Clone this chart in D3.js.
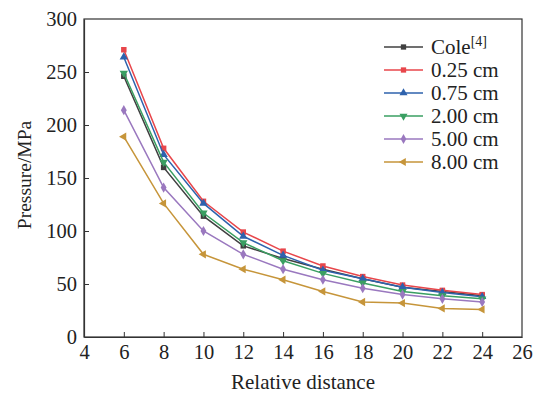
<!DOCTYPE html>
<html><head><meta charset="utf-8">
<script src="https://cdn.jsdelivr.net/npm/d3@7"></script>
</head><body style="margin:0;background:#fff">
<svg id="c" width="539" height="396" style="display:block"></svg>
<script>
const xValues = [6, 8, 10, 12, 14, 16, 18, 20, 22, 24];
const seriesNames = ["Cole", "0.25 cm", "0.75 cm", "2.00 cm", "5.00 cm", "8.00 cm"];
const cole   = [246, 160, 114, 86, 74, 64, 55, 47, 43, 39];
const cm025  = [271, 178, 128, 99, 81, 67, 57, 49, 44, 40];
const cm075  = [264, 172, 126, 95, 77, 63, 55, 47, 42, 38];
const cm200  = [249, 165, 117, 89, 72, 60, 51, 43, 39, 36];
const cm500  = [214, 141, 100, 78, 64, 54, 46, 40, 36, 33];
const cm800  = [189, 126, 78, 64, 54, 43, 33, 32, 27, 26];
const xTicks = [4, 6, 8, 10, 12, 14, 16, 18, 20, 22, 24, 26];
const yTicks = [0, 50, 100, 150, 200, 250, 300];
const colors = ["#404040", "#e8464b", "#2e62ad", "#3a9f62", "#9a78bf", "#c6953a"];
const symbols = [d3.symbolSquare, d3.symbolSquare, d3.symbolTriangle, d3.symbolTriangle, d3.symbolDiamond, d3.symbolTriangle];
const rotations = [0, 0, 0, 180, 0, -90];
const allSeries = [cole, cm025, cm075, cm200, cm500, cm800];

const FONT = '"Liberation Serif"';
const svg = d3.select("#c");
const L = 84, R = 522, T = 19, B = 337;
const x = d3.scaleLinear().domain([4, 26]).range([L, R]);
const y = d3.scaleLinear().domain([0, 300]).range([B, T]);

svg.append("rect").attr("x", L).attr("y", T).attr("width", R - L).attr("height", B - T)
  .attr("fill", "none").attr("stroke", "#333").attr("stroke-width", 1.2);

const xAxis = svg.append("g").attr("transform", `translate(0,${B})`)
  .call(d3.axisBottom(x).tickValues(xTicks).tickSizeInner(-5).tickSizeOuter(0).tickPadding(6));
const yAxis = svg.append("g").attr("transform", `translate(${L},0)`)
  .call(d3.axisLeft(y).tickValues(yTicks).tickSizeInner(-5).tickSizeOuter(0).tickPadding(7));
[xAxis, yAxis].forEach(g => {
  g.attr("font-family", null).attr("font-size", null);
  g.select(".domain").attr("stroke", "#333").attr("stroke-width", 1.2);
  g.selectAll(".tick line").attr("stroke", "#333").attr("stroke-width", 1);
  g.selectAll("text").style("font-family", FONT).attr("font-size", 20.5).attr("fill", "#222");
});
xAxis.selectAll(".tick").filter(d => d === 4 || d === 26).select("line").remove();
yAxis.selectAll(".tick").filter(d => d === 0 || d === 300).select("line").remove();
xAxis.selectAll("text").attr("dy", "0.8em");

svg.append("text").attr("x", 303).attr("y", 389).attr("text-anchor", "middle")
  .style("font-family", FONT).attr("font-size", 21).attr("fill", "#222").text("Relative distance");
svg.append("text").attr("transform", `translate(31,${(T + B) / 2 - 3}) rotate(-90)`).attr("text-anchor", "middle")
  .style("font-family", FONT).attr("font-size", 19.5).attr("fill", "#222").text("Pressure/MPa");

const line = d3.line().x((d, i) => x(xValues[i])).y(d => y(d));
allSeries.forEach((vals, s) => {
  const g = svg.append("g");
  g.append("path").attr("d", line(vals)).attr("fill", "none")
    .attr("stroke", colors[s]).attr("stroke-width", 1.5);
  g.selectAll("path.m").data(vals).join("path").attr("class", "m")
    .attr("d", d3.symbol().type(symbols[s]).size(30))
    .attr("transform", (d, i) => `translate(${x(xValues[i])},${y(d)}) rotate(${rotations[s]})`)
    .attr("fill", colors[s]);
});

const leg = svg.append("g");
seriesNames.forEach((name, s) => {
  const yy = 47 + s * 23;
  leg.append("line").attr("x1", 384).attr("x2", 423).attr("y1", yy).attr("y2", yy)
    .attr("stroke", colors[s]).attr("stroke-width", 1.5);
  leg.append("path").attr("d", d3.symbol().type(symbols[s]).size(28))
    .attr("transform", `translate(403.5,${yy}) rotate(${rotations[s]})`).attr("fill", colors[s]);
  const t = leg.append("text").attr("x", 431).attr("y", yy + 7)
    .style("font-family", FONT).attr("font-size", 21).attr("fill", "#222");
  t.append("tspan").text(name);
  if (s === 0) t.append("tspan").attr("font-size", 14).attr("dy", -8).text("[4]");
});
</script>
</body></html>
